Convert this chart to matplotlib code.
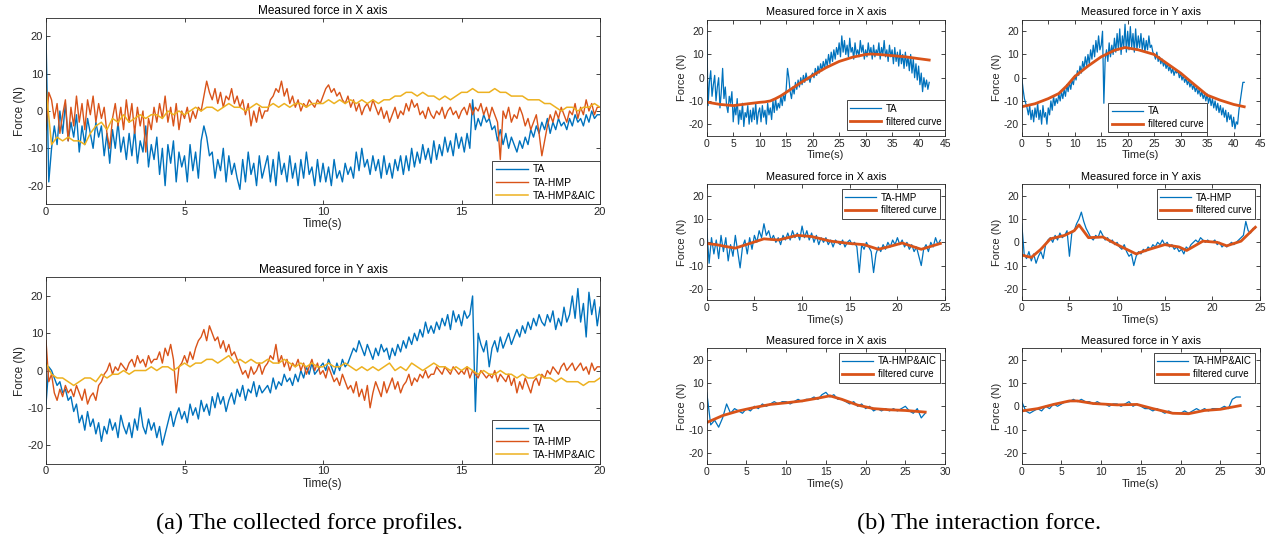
import numpy as np
import matplotlib.pyplot as plt

plt.rcParams['font.family'] = ['Liberation Sans', 'DejaVu Sans']
plt.rcParams['axes.unicode_minus'] = False

BLUE = '#0072BD'
ORANGE = '#D95319'
YELLOW = '#EDB120'
DARK = '#262626'

# ---- (a) collected force profiles ----
# TA and TA-HMP read every 0.1 s, TA-HMP&AIC every 0.2 s
t_a = np.linspace(0, 20, 201)
t_a2 = np.linspace(0, 20, 101)

ta_x = [20, -19, -10, -4, -9, 0, -6, 2, -8, -3,
        -7, -1, -11, -4, -9, -2, -6, -10, -3, -7,
        -4, -12, -6, -14, -5, -10, -3, -11, -7, -13,
        -6, -12, -5, -14, -8, -11, -4, -15, -9, -13,
        -7, -17, -10, -20, -9, -14, -8, -19, -11, -15,
        -12, -19, -9, -16, -11, -18, -8, -4, -7, -12,
        -11, -18, -13, -16, -10, -19, -12, -17, -14, -18,
        -21, -13, -19, -11, -17, -14, -20, -12, -18, -15,
        -12, -19, -13, -20, -11, -17, -14, -19, -12, -18,
        -14, -20, -13, -18, -11, -17, -15, -20, -13, -19,
        -14, -19, -15, -20, -13, -18, -16, -19, -14, -17,
        -15, -18, -11, -16, -10, -15, -13, -17, -12, -16,
        -13, -18, -12, -17, -14, -18, -13, -16, -12, -17,
        -12, -16, -10, -15, -11, -14, -9, -13, -10, -14,
        -8, -13, -9, -12, -7, -11, -8, -12, -6, -10,
        -7, -11, -6, -10, 3, -5, -2, -4, -1, -3,
        -2, -5, -4, -8, -5, -9, -6, -10, -7, -9,
        -11, -8, -10, -7, -9, -5, -7, -4, -6, -3,
        -5, -2, -6, -3, -5, -2, -4, -3, -5, -2,
        -4, -1, -3, -2, -4, -1, -3, 0, -2, -1,
        -1]
hmp_x = [-5, 5, 3, -2, 2, -6, -1, 3, -8, 1,
         -4, 4, -3, 2, -5, 3, -1, 4, -3, 2,
         -2, 1, -6, -10, -2, 2, -4, 1, -5, 3,
         -3, 2, -6, 1, -4, 0, -11, -2, -5, 1,
         -3, 2, -2, 4, -3, 1, -4, 2, -5, 0,
         -2, 1, -3, 0, -2, 1, 0, 4, 8, 5,
         3, 6, 2, 5, 1, 4, 3, 6, 2, 4,
         1, 3, -1, 2, -4, 0, -3, 1, -2, 0,
         0, 3, 4, 6, 5, 8, 4, 6, 2, 4,
         1, 3, 0, 2, 1, 3, 2, 1, 3, 2,
         4, 6, 7, 5, 6, 4, 5, 3, 2, 4,
         1, 3, 0, 2, -1, 1, 2, 0, 3, 1,
         -1, 1, -2, 0, -3, -1, 1, -2, 0, -1,
         2, 0, 3, 1, 2, -1, 0, -2, 1, -1,
         -2, 0, -1, 1, -2, 0, 1, -1, 0, -2,
         0, 1, -1, 2, -1, 1, 0, 2, -1, 1,
         -2, 1, -1, -3, -13, 0, -2, 1, -3, -1,
         -2, 1, -1, -4, -2, -5, -3, -1, -6, -12,
         -8, -4, -1, -3, 0, -2, 1, -1, -3, 0,
         -1, 2, -2, 1, -1, 3, 0, 2, -1, 1,
         1]
aic_x = [6, -9, -7, -8, -7, -8, -8, -9, -6, -4,
         -3, -5, -2, -3, -1, -3, -2, -1, -2, -1,
         -1, -2, 0, -1, 0, -1, 0, 1, 0, 1,
         1, 0, 1, 2, 1, 1, 0, 1, 2, 1,
         1, 2, 1, 2, 1, 2, 2, 1, 2, 2,
         2, 3, 2, 3, 2, 3, 2, 3, 2, 3,
         2, 3, 3, 4, 4, 5, 5, 4, 5, 4,
         4, 3, 4, 3, 4, 5, 5, 6, 5, 5,
         5, 6, 5, 5, 4, 4, 4, 3, 3, 3,
         2, 2, 1, 0, 1, 1, 0, 1, 1, 2,
         1]

ta_y = [-9, 1, 0, -2, -4, -3, -6, -5, -8, -7,
        -11, -9, -14, -12, -16, -11, -15, -13, -17, -14,
        -19, -15, -17, -13, -16, -14, -18, -12, -15, -17,
        -14, -18, -13, -16, -10, -15, -17, -13, -16, -14,
        -18, -15, -20, -17, -14, -11, -15, -12, -10, -13,
        -11, -14, -9, -12, -10, -13, -8, -11, -9, -12,
        -7, -10, -6, -9, -7, -11, -8, -6, -9, -5,
        -7, -4, -8, -5, -6, -3, -7, -4, -6, -5,
        -4, -6, -2, -5, -3, -4, -1, -3, -2, -4,
        -1, -3, 0, -2, 1, -1, 2, -1, 0, 1,
        2, 0, 3, 1, -1, 2, 0, 3, 1, 2,
        4, 6, 5, 8, 6, 4, 7, 5, 3, 6,
        4, 7, 5, 6, 3, 6, 4, 7, 5, 8,
        6, 9, 7, 10, 8, 11, 9, 13, 10, 12,
        10, 13, 11, 14, 12, 15, 11, 16, 13, 15,
        12, 16, 14, 15, 20, -11, 10, 7, 5, 8,
        1, 6, 8, 5, 9, 6, 8, 10, 7, 9,
        11, 9, 12, 10, 13, 11, 14, 12, 15, 13,
        12, 15, 13, 16, 11, 14, 12, 17, 13, 15,
        20, 14, 22, 13, 18, 9, 21, 15, 19, 12,
        17]
hmp_y = [8, -3, -1, -6, -8, -5, -7, -4, -6, -5,
         -7, -4, -6, -8, -5, -9, -7, -6, -8, -4,
         -3, -1, 0, 2, -1, 1, 0, 2, 1, 0,
         2, 3, 1, 4, 2, 3, 1, 4, 2, 3,
         3, 5, 2, 6, 4, 7, 3, -6, 1, 2,
         4, 2, 5, 3, 6, 8, 9, 11, 8, 12,
         10, 8, 9, 6, 8, 5, 7, 4, 5, 3,
         1, -1, 0, -2, 1, -1, 0, 2, -1, 1,
         2, 4, 3, 7, 2, 4, 1, 3, 0, 2,
         1, 3, 0, 2, -1, 1, 3, 0, 2, -1,
         0, -2, 1, -1, -3, -2, -4, -1, -3, -5,
         -4, -6, -3, -7, -5, -8, -4, -10, -6, -3,
         -5, -7, -3, -6, -4, -2, -5, -3, -6, -4,
         -3, -1, -4, -2, -3, -1, -2, 0, -2, -1,
         -1, 1, 0, -1, 1, 0, -1, 1, 0, -1,
         0, -1, 1, -2, 0, -1, -2, 0, -1, -2,
         -1, -2, 0, -3, -1, -2, -3, -1, -4, -2,
         -6, -3, -5, -2, -4, -6, -3, -2, -4, -1,
         -2, 0, -1, 1, 0, -1, 1, 2, 0, 1,
         2, 0, 1, 2, 0, 1, -1, 2, 0, 1,
         1]
aic_y = [2, -1, -2, -2, -3, -4, -3, -2, -2, -3,
         -1, -2, -1, -1, 0, -1, 0, 0, 0, 1,
         0, 1, 1, 0, 1, 2, 1, 2, 2, 3,
         3, 2, 3, 4, 2, 3, 2, 3, 2, 2,
         3, 2, 2, 3, 2, 1, 2, 1, 2, 1,
         1, 2, 1, 1, 2, 1, 0, 1, 0, 1,
         0, 1, 2, 0, 1, 0, 2, 1, 0, 1,
         2, 1, 1, 0, 1, 0, 1, 0, -1, 0,
         -1, -1, 0, -1, -1, -2, -1, -2, -2, -1,
         -2, -2, -3, -2, -3, -3, -3, -4, -3, -3,
         -2]

# ---- (b) interaction force ----
t_ta = np.linspace(0, 42, 169)  # every 0.25 s
b_ta_x = [20, -12, -2, 3, -8, -3, 1, -10, -4, 0,
          -13, -6, 4, -9, -4, -12, -15, -8, -11, -6,
          -19, -12, -16, -9, -20, -14, -18, -11, -21, -15,
          -17, -12, -20, -14, -19, -13, -18, -11, -20, -15,
          -13, -19, -12, -17, -14, -20, -11, -16, -13, -18,
          -10, -15, -9, -14, -11, -13, -8, -12, -7, -10,
          -5, 4, 0, -6, -9, -4, -7, -2, -5, -1,
          -4, 0, -3, 1, -2, 2, -1, 0, -2, 1,
          2, 0, 4, 1, 5, 2, 6, 3, 7, 4,
          8, 5, 10, 6, 11, 7, 12, 8, 13, 10,
          15, 9, 18, 11, 16, 10, 14, 9, 17, 11,
          13, 8, 15, 10, 12, 9, 16, 11, 14, 8,
          12, 9, 15, 10, 13, 8, 14, 9, 12, 10,
          15, 8, 13, 10, 16, 9, 12, 7, 14, 9,
          12, 6, 13, 7, 11, 5, 12, 6, 10, 4,
          11, 5, 9, 3, 10, 2, 8, 0, 6, -1,
          5, -3, 2, -6, 0, -4, -1, -5, -2]
b_ta_y = [0, -5, -9, -11, -13, -16, -12, -18, -14, -19,
          -13, -17, -11, -18, -14, -20, -12, -17, -15, -20,
          -13, -16, -10, -14, -8, -12, -9, -11, -7, -10,
          -6, -9, -5, -8, -3, -6, -2, -5, -1, -3,
          1, -1, 3, 1, 5, 2, 7, 4, 9, 5,
          10, 6, 12, 8, 14, 9, 16, 11, 18, 12,
          14, 20, -11, 8, 12, 7, 15, 9, 14, 10,
          17, 11, 19, 12, 21, 10, 18, 13, 23, 11,
          20, 12, 22, 13, 19, 11, 21, 12, 18, 13,
          19, 12, 17, 11, 16, 12, 18, 13, 14, 11,
          10, 8, 11, 7, 9, 6, 8, 5, 7, 4,
          6, 3, 5, 2, 4, 1, 3, 2, 3, 0,
          2, -1, 1, -2, 0, -3, -1, -4, -2, -5,
          -3, -6, -4, -7, -5, -8, -6, -9, -7, -10,
          -7, -11, -8, -12, -9, -13, -10, -14, -11, -15,
          -12, -16, -13, -17, -14, -19, -15, -18, -16, -21,
          -17, -22, -19, -20, -14, -10, -6, -2, -2]
f_ta_t = [0, 2.5, 5, 7.5, 10, 11, 12, 13, 14, 15, 17.5, 20, 22.5, 25, 27.5, 30, 31,
          32.5, 35, 37.5, 40, 42]
f_ta_x = [-10.5, -11.5, -12, -11.3, -10.6, -10.4, -10, -9, -7.8, -6.3, -2.5, 1, 4.3, 7,
          8.8, 10, 10.2, 10, 9.5, 9, 8.2, 7.6]
f_ta_yt = [0, 2.5, 5, 7, 8.5, 10, 12.5, 15, 17.5, 19.5, 22, 25, 27.5, 30, 32.5, 35,
           37.5, 40, 42]
f_ta_y = [-12.5, -11.2, -9, -6.8, -3.5, 0.5, 5, 9, 11.8, 13, 12, 10, 6, 2, -2.8, -7.5,
          -9.7, -11.5, -12.5]

t_hmp = np.linspace(0, 24.5, 99)  # every 0.25 s
b_hmp_x = [6, -9, 2, -5, 1, -7, 3, -4, 2, -8,
           -1, -6, 3, -4, -11, -2, 1, -5, 2, -3,
           3, 0, 5, 2, 8, 3, 5, 1, 3, 0,
           2, -1, 3, 1, 4, 1, 5, 2, 4, 1,
           7, 2, 5, 1, 4, 0, 3, -1, 2, 0,
           2, -1, 1, -2, 1, 0, -1, 1, -2, 0,
           1, -1, 0, -2, -13, -1, -3, 0, -2, -4,
           -13, -5, -2, -4, -1, -3, 0, -2, 1, -1,
           2, -1, 1, -2, 0, -3, -1, -4, -2, -6,
           -10, -3, -1, -4, 0, -2, 2, -1, 1]
b_hmp_y = [8, -5, -7, -4, -8, -5, -9, -6, -4, -7,
           -1, 1, 2, 0, 3, 1, 4, 2, 3, 5,
           -6, 4, 5, 8, 10, 13, 9, 6, 4, 2,
           1, 3, 2, 5, 3, 1, 2, 0, 1, -1,
           0, -2, -3, -1, -4, -6, -5, -10, -6, -4,
           -5, -3, -4, -2, -3, -1, -2, 0, -1, 1,
           -1, 0, -2, -1, -3, -2, -4, -3, -5, -2,
           -3, -1, 0, 1, 0, 2, 1, 0, 1, 0,
           0, 1, -1, 0, -2, -1, -2, -1, 0, -1,
           0, 1, 2, 3, 9, 5, 4, 6, 6]
f_hmp_xt = [0, 1, 2, 3, 4.5, 6, 7.5, 9.5, 11, 13, 15, 16.5, 18, 19, 20.5, 22.5, 24.5]
f_hmp_x = [-0.5, -1, -1.8, -2.5, -0.5, 1.5, 1, 3, 2.5, 0.5, -0.5, -1, -3, -2, -0.3, -3, -0.5]
f_hmp_yt = [0, 1, 2, 3, 4.5, 5.5, 6, 7, 8.5, 10, 12, 13, 15, 16.5, 17.3, 19, 20.5, 21.5, 23, 24.5]
f_hmp_y = [-5.5, -6.5, -3, 1.5, 3, 5, 7.5, 2, 2.3, -1, -5, -3.5, -1, -2, -3.5, 0.5, 0, -1.5, 0.5, 6.5]

t_aic = np.linspace(0, 27.5, 56)  # every 0.5 s
b_aic_x = [6, -8, -6, -9, -5, 1, -3, -1, -2, -3,
           -1, -2, 0, -1, 1, 0, 1, 2, 1, 2,
           2, 1, 2, 3, 2, 3, 3, 4, 3, 5,
           6, 4, 5, 3, 3, 2, 1, 2, 0, 1,
           -1, 0, -2, -1, -2, -1, -2, -1, -2, -1,
           0, -2, -3, -1, -5, -3]
b_aic_y = [2, -2, -3, -2, -1, -2, 0, -1, 1, 0,
           1, 2, 2, 3, 2, 3, 2, 2, 1, 2,
           1, 1, 0, 1, 1, 0, 1, 2, 0, 1,
           0, -1, -1, -2, -1, -2, -3, -2, -3, -3,
           -3, -2, -3, -2, -1, -2, -1, -2, -1, -1,
           -1, 0, -1, 3, 4, 4]
f_aic_xt = [0, 2, 4, 6, 8, 10, 12, 14, 15.5, 17, 19, 21, 23, 25, 27.5]
f_aic_x = [-7, -4, -2, -0.5, 0.8, 1.5, 2.3, 3.5, 4.5, 3, 0.5, -1, -1.5, -1.8, -2.5]
f_aic_yt = [0, 2, 4, 6, 7, 9, 12, 14.5, 16.5, 19, 21, 23, 25, 27.5]
f_aic_y = [-2, -1, 0.8, 2.3, 2.3, 1.2, 0.6, 0.8, -1, -3, -3.2, -1.8, -1.3, 0.3]


def style(ax, xmax, xstep, fs):
    ax.set_xlim(0, xmax)
    ax.set_ylim(-25, 25)
    ax.set_xticks(np.arange(0, xmax + 0.1, xstep))
    ax.set_yticks([-20, -10, 0, 10, 20])
    ax.tick_params(direction='in', top=True, right=True, length=3, width=0.6,
                   labelsize=fs, colors=DARK, pad=2)
    for s in ax.spines.values():
        s.set_linewidth(0.6)
        s.set_color(DARK)
    ax.set_xlabel('Time(s)', fontsize=fs + 0.5, color=DARK, labelpad=1)
    ax.set_ylabel('Force (N)', fontsize=fs + 0.5, color=DARK, labelpad=1)


def legend(ax, fs, **kw):
    leg = ax.legend(fontsize=fs, frameon=True, fancybox=False, edgecolor=DARK,
                    framealpha=1, handletextpad=0.5, borderpad=0.35,
                    labelspacing=0.3, **kw)
    leg.get_frame().set_linewidth(0.6)
    return leg


fig = plt.figure(figsize=(12.78, 5.48), dpi=100)

# left column
ax1 = fig.add_axes([0.0360, 0.6272, 0.4335, 0.3405])
ax1.plot(t_a, ta_x, color=BLUE, lw=1.0, label='TA')
ax1.plot(t_a, hmp_x, color=ORANGE, lw=1.0, label='TA-HMP')
ax1.plot(t_a2, aic_x, color=YELLOW, lw=1.1, label='TA-HMP&AIC')
style(ax1, 20, 5, 8)
ax1.set_title('Measured force in X axis', fontsize=8.5, color='black', pad=3)
legend(ax1, 7.5, loc='lower right', borderaxespad=0, handlelength=3.1)

ax2 = fig.add_axes([0.0360, 0.1538, 0.4335, 0.3401])
ax2.plot(t_a, ta_y, color=BLUE, lw=1.0, label='TA')
ax2.plot(t_a, hmp_y, color=ORANGE, lw=1.0, label='TA-HMP')
ax2.plot(t_a2, aic_y, color=YELLOW, lw=1.1, label='TA-HMP&AIC')
style(ax2, 20, 5, 8)
ax2.set_title('Measured force in Y axis', fontsize=8.5, color='black', pad=3)
legend(ax2, 7.5, loc='lower right', borderaxespad=0, handlelength=3.1)

# right grid
col_x = [0.5530, 0.7995]
row_y = [0.7522, 0.4518, 0.1526]
w, h = 0.1865, 0.2120

panels = [
    (0, 0, t_ta, b_ta_x, f_ta_t, f_ta_x, 'TA', 'X', 45),
    (0, 1, t_ta, b_ta_y, f_ta_yt, f_ta_y, 'TA', 'Y', 45),
    (1, 0, t_hmp, b_hmp_x, f_hmp_xt, f_hmp_x, 'TA-HMP', 'X', 25),
    (1, 1, t_hmp, b_hmp_y, f_hmp_yt, f_hmp_y, 'TA-HMP', 'Y', 25),
    (2, 0, t_aic, b_aic_x, f_aic_xt, f_aic_x, 'TA-HMP&AIC', 'X', 30),
    (2, 1, t_aic, b_aic_y, f_aic_yt, f_aic_y, 'TA-HMP&AIC', 'Y', 30),
]
for r, c, t, raw, ft, fv, name, axis, xmax in panels:
    ax = fig.add_axes([col_x[c], row_y[r], w, h])
    ax.plot(t, raw, color=BLUE, lw=0.9, label=name)
    ax.plot(ft, fv, color=ORANGE, lw=2.0, label='filtered curve')
    style(ax, xmax, 5, 7.5)
    ax.set_title(f'Measured force in {axis} axis', fontsize=7.8, color='black', pad=3)
    if r == 0 and c == 0:
        legend(ax, 7, loc='lower right', bbox_to_anchor=(1.0, 0.05), borderaxespad=0,
               handlelength=3.2)
    elif r == 0:
        legend(ax, 7, loc='lower center', bbox_to_anchor=(0.57, 0.03), borderaxespad=0,
               handlelength=3.2)
    else:
        legend(ax, 7, loc='upper right', borderaxespad=0.5, handlelength=3.2)

fig.text(0.242, 0.045, '(a) The collected force profiles.', ha='center', va='center',
         fontsize=17.5, family='Liberation Serif')
fig.text(0.766, 0.045, '(b) The interaction force.', ha='center', va='center',
         fontsize=17.5, family='Liberation Serif')

fig.savefig('out.png', dpi=100)
